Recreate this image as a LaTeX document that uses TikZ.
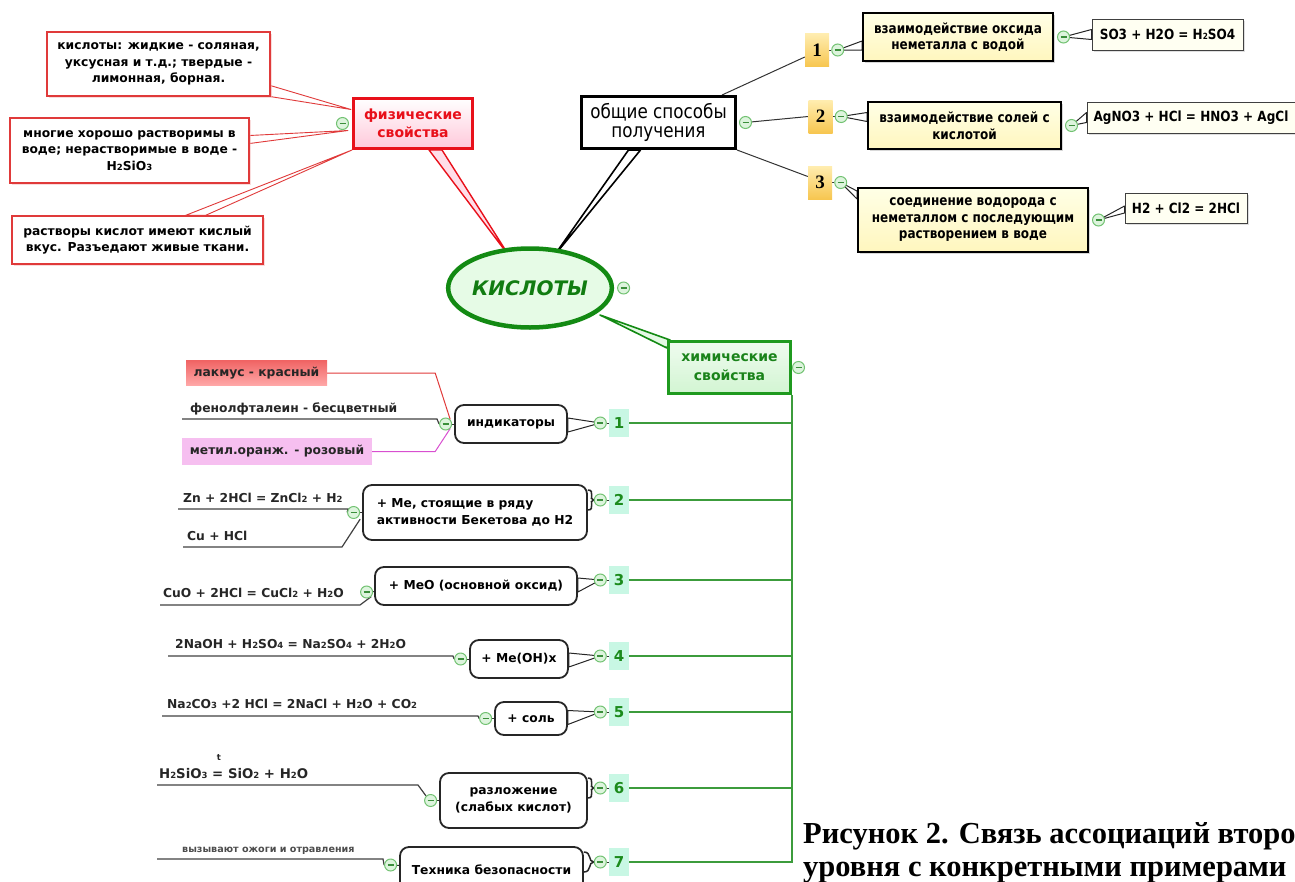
\documentclass[tikz,border=0pt]{standalone}
\usepackage{fontspec}
\setmainfont{DejaVu Sans}
\newfontfamily\tahfont{DejaVu Sans}[FakeStretch=0.86]
\newfontfamily\capfont{Liberation Serif}
\usetikzlibrary{shapes.geometric,positioning,calc,shadows}

\definecolor{fizred}{HTML}{E8101A}
\definecolor{fizpink}{HTML}{FFC8DA}
\definecolor{leafred}{HTML}{E03A3A}
\definecolor{rootgreen}{HTML}{138A13}
\definecolor{rootfill}{HTML}{E6FBE6}
\definecolor{chemgreen}{HTML}{1F9A1F}
\definecolor{chemfill}{HTML}{D2F5D2}
\definecolor{spinegreen}{HTML}{3C9C3C}
\definecolor{mintfill}{HTML}{C8F7E4}
\definecolor{foldfill}{HTML}{DDF4DD}
\definecolor{folddraw}{HTML}{72C272}
\definecolor{folddark}{HTML}{3B8F3B}
\definecolor{badgetop}{HTML}{FFEDB0}
\definecolor{badgebot}{HTML}{F7C650}
\definecolor{waytop}{HTML}{FFFFE6}
\definecolor{waybot}{HTML}{FFF6BE}
\definecolor{eqfill}{HTML}{FFFFF2}
\definecolor{lakdark}{HTML}{F06464}
\definecolor{laklight}{HTML}{FFA8A8}
\definecolor{metpink}{HTML}{F6BFF0}
\definecolor{magline}{HTML}{D84FD0}

\newcommand\lo[1]{{\fontsize{8.5}{8.5}\selectfont #1}}
\newcommand\leaffont{\fontsize{12.3}{16.5}\selectfont\bfseries}
\newcommand\wayfont{\tahfont\fontsize{14}{16.5}\selectfont\bfseries}

\pgfdeclarelayer{back}
\pgfsetlayers{back,main}

\tikzset{
    foldbtn/.style={circle,minimum size=12pt,inner sep=0pt,fill=foldfill,draw=folddraw,line width=1pt,
        path picture={\draw[folddark,line width=1.1pt] ([xshift=-3pt]path picture bounding box.center) -- ([xshift=3pt]path picture bounding box.center);}},
    rootnode/.style={ellipse,draw=rootgreen,line width=4.5pt,fill=rootfill,minimum width=160pt,minimum height=79pt,inner sep=0pt,text=rootgreen!90!black,font=\fontsize{20}{24}\selectfont\bfseries\itshape},
    physnode/.style={draw=fizred,line width=3pt,top color=white,bottom color=fizpink,text=fizred,font=\fontsize{14}{18}\selectfont\bfseries,minimum width=119pt,minimum height=50pt,align=center,inner sep=0pt},
    physleaf/.style={draw=leafred,line width=1.2pt,fill=white,font=\leaffont,align=center,inner sep=0pt,drop shadow={shadow xshift=1.5pt,shadow yshift=-1.5pt,fill=leafred!35}},
    gennode/.style={draw=black,line width=3pt,fill=white,font=\tahfont\fontsize{19.5}{19.5}\selectfont,minimum width=154pt,minimum height=52pt,align=center,inner sep=0pt},
    numy/.style={minimum width=24pt,minimum height=33pt,top color=badgetop,bottom color=badgebot,font=\capfont\bfseries\fontsize{19}{19}\selectfont,inner sep=0pt},
    waybox/.style={draw=black,line width=2pt,top color=waytop,bottom color=waybot,font=\wayfont,align=center,inner sep=0pt,drop shadow={shadow xshift=2pt,shadow yshift=-2pt,fill=black!30}},
    eqbox/.style={draw=black!75,line width=1pt,fill=eqfill,font=\wayfont,inner sep=0pt,drop shadow={shadow xshift=2pt,shadow yshift=-2pt,fill=black!25}},
    chemnode/.style={draw=chemgreen,line width=3pt,top color=chemfill!35,bottom color=chemfill,text=chemgreen!85!black,font=\fontsize{14}{19}\selectfont\bfseries,align=center,minimum width=122pt,minimum height=52pt,inner sep=0pt},
    numg/.style={fill=mintfill,text=chemgreen!90!black,font=\fontsize{15}{15}\selectfont\bfseries,minimum width=20pt,minimum height=28pt,inner sep=0pt},
    propbox/.style={draw=black!85,line width=1.8pt,rounded corners=9pt,fill=white,font=\leaffont,align=center,inner sep=0pt},
    leaftext/.style={font=\leaffont,inner sep=0pt,text=black!85},
    lakbox/.style={top color=lakdark,bottom color=laklight,font=\leaffont,text=black!85,minimum width=141pt,minimum height=25pt,inner sep=0pt},
    metbox/.style={fill=metpink,font=\leaffont,text=black!85,minimum width=190pt,minimum height=27pt,inner sep=0pt},
    captext/.style={font=\capfont\bfseries\fontsize{30.5}{34}\selectfont,inner sep=0pt},
}

\begin{document}
\begin{tikzpicture}[x=1pt,y=-1pt,
    redtail/.style={draw=leafred,fill=white,line width=0.9pt,line join=round},
    fiztail/.style={draw=fizred,fill=fizpink!60,line width=1.4pt,line join=round},
    blacktail/.style={draw=black!85,fill=white,line width=1pt,line join=round},
    bigtail/.style={draw=black,fill=white,line width=1.6pt,line join=round},
    greentail/.style={draw=rootgreen,fill=chemfill!60,line width=1.6pt,line join=round},
    tie/.style={draw=black!85,line width=1.5pt},
    leafline/.style={draw=black!75,line width=1.2pt},
    chemline/.style={draw=spinegreen,line width=1.3pt},
    thinline/.style={draw=black!80,line width=1pt}]
\useasboundingbox (0,0) rectangle (1295,881);

% centre
\node[rootnode] (kis) at (530,288) {КИСЛОТЫ};
\node[foldbtn,right=3pt of kis] (m0) {};

% physical properties
\node[physnode] (fiz) at (413,123.5) {физические\\свойства};
\node[foldbtn,left=3pt of fiz] (mf) {};
\node[physleaf,minimum width=223pt,minimum height=64pt] (p1) at (158.5,64) {кислоты: жидкие - соляная,\\уксусная и т.д.; твердые -\\лимонная, борная.};
\node[physleaf,minimum width=239pt,minimum height=65pt] (p2) at (129.5,150.5) {многие хорошо растворимы в\\воде; нерастворимые в воде -\\H\lo{2}SiO\lo{3}};
\node[physleaf,minimum width=251pt,minimum height=48pt] (p3) at (137.5,240) {растворы кислот имеют кислый\\вкус. Разъедают живые ткани.};

% ways of getting
\node[gennode] (obs) at (658.5,122.5) {общие способы\\получения};
\node[foldbtn,right=2pt of obs] (mo) {};
\node[numy] (n1) at (817,50) {1};
\node[numy] (n2) at (820.5,116.5) {2};
\node[numy] (n3) at (820,182.5) {3};
\node[foldbtn,right=2pt of n1] (g1) {};
\node[foldbtn,right=2pt of n2] (g2) {};
\node[foldbtn,right=2pt of n3] (g3) {};
\node[waybox,minimum width=190pt,minimum height=48pt] (a1) at (958,37) {взаимодействие оксида\\неметалла с водой};
\node[waybox,minimum width=193pt,minimum height=47pt] (a2) at (964.5,125.5) {взаимодействие солей с\\кислотой};
\node[waybox,minimum width=230pt,minimum height=64pt] (a3) at (973,220) {соединение водорода с\\неметаллом с последующим\\растворением в воде};
\node[foldbtn,right=3pt of a1] (h1) {};
\node[foldbtn,right=3pt of a2] (h2) {};
\node[foldbtn,right=3pt of a3] (h3) {};
\node[eqbox,minimum width=151pt,minimum height=31pt] (e1) at (1167.5,34.5) {SO3 + H2O = H\lo{2}SO4};
\node[eqbox,minimum width=208pt,minimum height=31pt] (e2) at (1191,117.5) {AgNO3 + HCl = HNO3 + AgCl};
\node[eqbox,minimum width=122pt,minimum height=30pt] (e3) at (1186,208) {H2 + Cl2 = 2HCl};

% chemical properties
\node[chemnode] (him) at (729.5,367.5) {химические\\свойства};
\node[foldbtn,right=0pt of him] (mh) {};
\foreach \i/\y in {1/423,2/500,3/580,4/656,5/712,6/788,7/862}{
    \node[numg] (k\i) at (619,\y) {\i};
    \node[foldbtn,left=2pt of k\i] (c\i) {};
}
\node[propbox,minimum width=112pt,minimum height=38pt] (r1) at (511,424) {индикаторы};
\node[propbox,minimum width=224pt,minimum height=55pt,align=left] (r2) at (475,512.5) {+ Me, стоящие в ряду\\активности Бекетова до H2};
\node[propbox,minimum width=202pt,minimum height=38pt] (r3) at (476,586) {+ MeO (основной оксид)};
\node[propbox,minimum width=98pt,minimum height=38pt] (r4) at (519,659) {+ Me(OH)x};
\node[propbox,minimum width=72pt,minimum height=33pt] (r5) at (531,718.5) {+ соль};
\node[propbox,minimum width=147pt,minimum height=55pt] (r6) at (513.5,800.5) {разложение\\(слабых кислот)};
\node[propbox,minimum width=183pt,minimum height=46pt] (r7) at (491.5,870) {Техника безопасности};
\node[foldbtn,left=2pt of r1] (d1) {};
\node[foldbtn,left=2pt of r2] (d2) {};
\node[foldbtn,left=1pt of r3,yshift=-6pt] (d3) {};
\node[foldbtn,left=2pt of r4] (d4) {};
\node[foldbtn,left=2pt of r5] (d5) {};
\node[foldbtn,left=2pt of r6] (d6) {};
\node[foldbtn,left=2pt of r7,yshift=5pt] (d7) {};

% examples
\node[lakbox] (lak) at (256.5,373) {лакмус - красный};
\node[leaftext,anchor=base west] (fen) at (190,412) {фенолфталеин - бесцветный};
\node[metbox] (met) at (277,451.5) {метил.оранж. - розовый};
\node[leaftext,anchor=base west] (zn) at (183,502) {Zn + 2HCl = ZnCl\lo{2} + H\lo{2}};
\node[leaftext,anchor=base west] (cu) at (187,540) {Cu + HCl};
\node[leaftext,anchor=base west] (cuo) at (163,597) {CuO + 2HCl = CuCl\lo{2} + H\lo{2}O};
\node[leaftext,anchor=base west] (naoh) at (175,648) {2NaOH + H\lo{2}SO\lo{4} = Na\lo{2}SO\lo{4} + 2H\lo{2}O};
\node[leaftext,anchor=base west] (soda) at (167,708) {Na\lo{2}CO\lo{3} +2 HCl = 2NaCl + H\lo{2}O + CO\lo{2}};
\node[leaftext,anchor=base west,font=\fontsize{13.3}{16}\selectfont\bfseries] (sio) at (159,778) {H\lo{2}SiO\lo{3} = SiO\lo{2} + H\lo{2}O};
\node[leaftext,font=\fontsize{8.5}{8.5}\selectfont\bfseries] (tt) at (219,758) {t};
\node[leaftext,anchor=base west,font=\fontsize{9.6}{10}\selectfont\bfseries,text=black!70] (vyz) at (182,852) {вызывают ожоги и отравления};

% caption
\node[captext,anchor=base west] (cap1) at (803,843) {Рисунок 2. Связь ассоциаций второ};
\node[captext,anchor=base west] (cap2) at (803,876) {уровня с конкретными примерами};

\begin{pgfonlayer}{back}
    \filldraw[redtail] ($(p1.south east)+(0,-11)$) -- ($(fiz.west)+(-1,-14)$) -- (p1.south east) -- cycle;
    \filldraw[redtail] ($(p2.east)+(0,-15)$) -- ($(fiz.west)+(-4,7)$) -- ($(p2.east)+(0,-7)$) -- cycle;
    \filldraw[redtail] ($(p3.north)+(48,0)$) -- (fiz.south west) -- ($(p3.north)+(68,0)$) -- cycle;
    \filldraw[fiztail] ($(fiz.south)+(16,0)$) -- ($(kis.north)+(-20,11)$) -- ($(fiz.south)+(29,0)$) -- cycle;
    \filldraw[bigtail] ($(obs.south)+(-30,0)$) -- ($(kis.north)+(23,11)$) -- ($(obs.south)+(-18,0)$) -- cycle;
    \filldraw[greentail] ($(kis.center)+(70,27)$) -- ($(him.north west)+(3,0)$) -- ($(him.north west)+(0,8)$) -- cycle;

    \draw[thinline] ($(obs.north east)+(-15,0)$) -- ($(n1.west)+(0,7)$);
    \draw[thinline] (mo) -- (n2.west);
    \draw[thinline] (obs.south east) -- ($(n3.west)+(0,-6)$);
    \draw[thinline] (n1) -- (g1);
    \draw[thinline] (n2) -- (g2);
    \draw[thinline] (n3) -- (g3);
    \filldraw[blacktail] ($(a1.west)+(0,4)$) -- (g1.center) -- ($(a1.west)+(0,13)$) -- cycle;
    \filldraw[blacktail] ($(a2.west)+(0,-13)$) -- (g2.center) -- ($(a2.west)+(0,-4)$) -- cycle;
    \filldraw[blacktail] ($(a3.north west)+(0,4)$) -- (g3.center) -- ($(a3.north west)+(0,12)$) -- cycle;
    \filldraw[blacktail] ($(e1.west)+(0,-5)$) -- (h1.center) -- ($(e1.west)+(0,5)$) -- cycle;
    \filldraw[blacktail] ($(e2.west)+(0,-5)$) -- (h2.center) -- ($(e2.west)+(0,5)$) -- cycle;
    \filldraw[blacktail] ($(e3.west)+(0,-2)$) -- (h3.center) -- ($(e3.west)+(0,5)$) -- cycle;

    \draw[chemline] (him.south east) -- (him.south east |- k7.east) -- (k7.east);
    \foreach \i in {1,...,6}{
        \draw[chemline] (k\i.east) -- (k\i.east -| him.south east);
    }
    \foreach \i in {1,...,7}{
        \draw[thinline] (c\i) -- (k\i);
    }
    \filldraw[blacktail] ($(r1.east)+(0,-6)$) -- (c1.center) -- ($(r1.east)+(0,8)$) -- cycle;
    \filldraw[blacktail] ($(r3.east)+(0,-8)$) -- (c3.center) -- ($(r3.east)+(0,6)$) -- cycle;
    \filldraw[blacktail] ($(r4.east)+(0,-6)$) -- (c4.center) -- ($(r4.east)+(0,8)$) -- cycle;
    \filldraw[blacktail] ($(r5.east)+(0,-8)$) -- (c5.center) -- ($(r5.east)+(0,6)$) -- cycle;
    \draw[tie] ($(r2.east |- c2)+(0,-10)$) .. controls +(8,0) and +(-6,0) .. (c2.west) .. controls +(-6,0) and +(8,0) .. ($(r2.east |- c2)+(0,10)$);
    \draw[tie] ($(r6.east |- c6)+(0,-10)$) .. controls +(8,0) and +(-6,0) .. (c6.west) .. controls +(-6,0) and +(8,0) .. ($(r6.east |- c6)+(0,10)$);
    \draw[tie] ($(r7.east |- c7)+(0,-10)$) .. controls +(8,0) and +(-6,0) .. (c7.west) .. controls +(-6,0) and +(8,0) .. ($(r7.east |- c7)+(0,10)$);

    \foreach \i in {1,...,7}{
        \draw[thinline] (d\i) -- (r\i);
    }
    \draw[draw=leafred,line width=1pt] (lak.east) -- ++(108,0) -- (d1.north east);
    \draw[leafline] ($(fen.base west)+(-8,7)$) -- ++(255,0) -- (d1.west);
    \draw[draw=magline,line width=1pt] (met.east) -- ++(63,0) -- (d1.south east);
    \draw[leafline] ($(zn.base west)+(-5,7)$) -- ++(170,0) -- (d2.west);
    \draw[leafline] ($(cu.base west)+(-4,7)$) -- ++(159,0) -- ($(d2.south east)+(2,2)$);
    \draw[leafline] ($(cuo.base west)+(-3,8)$) -- ++(200,0) -- (d3.south east);
    \draw[leafline] ($(naoh.base west)+(-7,8)$) -- ++(285,0) -- (d4.west);
    \draw[leafline] ($(soda.base west)+(-5,8)$) -- ++(316,0) -- (d5.west);
    \draw[leafline] ($(sio.base west)+(-2,7)$) -- ++(261,0) -- (d6.north west);
    \draw[leafline] ($(vyz.base west)+(-25,7)$) -- ++(226,0) -- (d7.west);
\end{pgfonlayer}
\end{tikzpicture}
\end{document}
